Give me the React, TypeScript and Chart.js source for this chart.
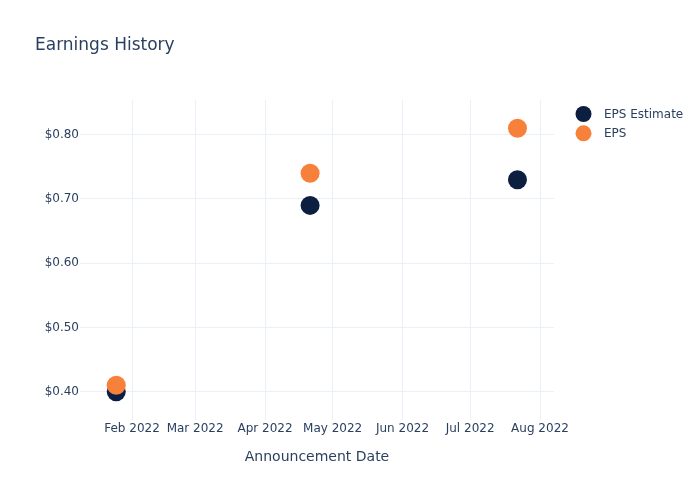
import React, { useEffect, useRef } from "react";
import { Chart, registerables } from "chart.js";

Chart.register(...registerables);

const titleText = "Earnings History";
const xAxisTitle = "Announcement Date";
const announcementDates = ["2022-01-25", "2022-04-21", "2022-07-22"];
const epsEstimate = [0.4, 0.69, 0.73];
const epsActual = [0.41, 0.74, 0.81];
const seriesNames = ["EPS Estimate", "EPS"];
const seriesColors = ["#0c1f40", "#f7803a"];
const yTicks = [0.4, 0.5, 0.6, 0.7, 0.8];
const xTickMonths = ["2022-02-01", "2022-03-01", "2022-04-01", "2022-05-01", "2022-06-01", "2022-07-01", "2022-08-01"];
const monthNames = ["Jan", "Feb", "Mar", "Apr", "May", "Jun", "Jul", "Aug", "Sep", "Oct", "Nov", "Dec"];

const toTs = (s: string) => {
  const [y, m, d] = s.split("-").map(Number);
  return Date.UTC(y, m - 1, d);
};

const FONT = "'DejaVu Sans', Verdana, sans-serif";
const TEXT = "#2a3f5f";
const GRID = "#ebf0f8";

export default function App() {
  const ref = useRef<HTMLCanvasElement | null>(null);
  useEffect(() => {
    if (!ref.current) return;
    const overlay = {
      id: "overlay",
      afterDraw(chart: any) {
        const ctx = chart.ctx;
        ctx.save();
        ctx.fillStyle = TEXT;
        ctx.font = `17px ${FONT}`;
        ctx.textBaseline = "middle";
        ctx.textAlign = "left";
        ctx.fillText(titleText, 35, 46);
        seriesNames.forEach((name, i) => {
          const y = 114 + i * 19.3;
          ctx.beginPath();
          ctx.fillStyle = seriesColors[i];
          ctx.arc(583.5, y, 8, 0, Math.PI * 2);
          ctx.fill();
          ctx.fillStyle = TEXT;
          ctx.font = `12px ${FONT}`;
          ctx.fillText(name, 604, y + 1);
        });
        ctx.restore();
      },
    };
    const chart = new Chart(ref.current, {
      type: "scatter",
      data: {
        datasets: [
          {
            label: seriesNames[0],
            data: announcementDates.map((d, i) => ({ x: toTs(d), y: epsEstimate[i] })),
            backgroundColor: seriesColors[0],
            borderWidth: 0,
            pointRadius: 9.5,
            order: 1,
          },
          {
            label: seriesNames[1],
            data: announcementDates.map((d, i) => ({ x: toTs(d), y: epsActual[i] })),
            backgroundColor: seriesColors[1],
            borderWidth: 0,
            pointRadius: 9.5,
            order: 0,
          },
        ],
      },
      options: {
        animation: false,
        responsive: false,
        layout: { padding: { left: 0, right: 146, top: 100, bottom: 0 } },
        plugins: { legend: { display: false }, tooltip: { enabled: false }, title: { display: false } },
        scales: {
          x: {
            type: "linear",
            min: Date.UTC(2022, 0, 8, 22),
            max: Date.UTC(2022, 7, 7, 5),
            afterBuildTicks: (scale: any) => {
              scale.ticks = xTickMonths.map((m) => ({ value: toTs(m) }));
            },
            afterFit: (scale: any) => {
              scale.height = 80;
            },
            ticks: {
              autoSkip: false,
              maxRotation: 0,
              padding: 2,
              color: TEXT,
              font: { family: FONT, size: 12 },
              callback: (v: any) => {
                const d = new Date(v);
                return `${monthNames[d.getUTCMonth()]} ${d.getUTCFullYear()}`;
              },
            },
            grid: { color: GRID, drawTicks: false, lineWidth: 1 },
            border: { display: false },
            title: {
              display: true,
              text: xAxisTitle,
              color: TEXT,
              font: { family: FONT, size: 14 },
              padding: { top: 0, bottom: 34 },
            },
          },
          y: {
            type: "linear",
            min: 0.356,
            max: 0.854,
            afterBuildTicks: (scale: any) => {
              scale.ticks = yTicks.map((v) => ({ value: v }));
            },
            afterFit: (scale: any) => {
              scale.width = 80;
            },
            ticks: {
              padding: 1,
              color: TEXT,
              font: { family: FONT, size: 12 },
              callback: (v: any) => `$${Number(v).toFixed(2)}`,
            },
            grid: { color: GRID, drawTicks: false, lineWidth: 1 },
            border: { display: false },
          },
        },
      },
      plugins: [overlay],
    } as any);
    return () => chart.destroy();
  }, []);
  return (
    <div style={{ position: "absolute", left: 0, top: 0, width: 700, height: 500, background: "#fff" }}>
      <canvas ref={ref} width={700} height={500} style={{ width: 700, height: 500 }} />
    </div>
  );
}
